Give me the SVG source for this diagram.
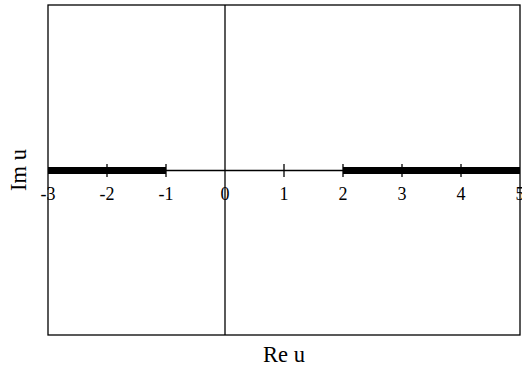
<svg xmlns="http://www.w3.org/2000/svg" width="522" height="367" viewBox="0 0 522 367">
<style>
.ln{stroke:#000;stroke-width:1.3;fill:none}
.thick{stroke:#000;stroke-width:7;fill:none}
.t{font-family:"Liberation Serif",serif;font-size:18px;fill:#000;text-anchor:middle}
.lab{font-family:"Liberation Serif",serif;font-size:22.5px;fill:#000;text-anchor:middle}
</style>
<rect width="522" height="367" fill="#fff"/>
<g id="frame"><rect x="48" y="5" width="472" height="330" class="ln"/></g>
<g id="connectors">
<line x1="48" y1="170.5" x2="520" y2="170.5" class="ln"/>
<line x1="225" y1="5" x2="225" y2="335" class="ln"/>
<line x1="48" y1="170.5" x2="166" y2="170.5" class="thick"/>
<line x1="343" y1="170.5" x2="520" y2="170.5" class="thick"/>
<g class="ln">
<line x1="107" y1="164" x2="107" y2="177"/>
<line x1="166" y1="164" x2="166" y2="177"/>
<line x1="284" y1="164" x2="284" y2="177"/>
<line x1="343" y1="164" x2="343" y2="177"/>
<line x1="402" y1="164" x2="402" y2="177"/>
<line x1="461" y1="164" x2="461" y2="177"/>
</g>
</g>
<g id="ticklabels">
<text class="t" x="48" y="200">-3</text>
<text class="t" x="107" y="200">-2</text>
<text class="t" x="166" y="200">-1</text>
<text class="t" x="225" y="200">0</text>
<text class="t" x="284" y="200">1</text>
<text class="t" x="343" y="200">2</text>
<text class="t" x="402" y="200">3</text>
<text class="t" x="461" y="200">4</text>
<text class="t" x="520" y="200">5</text>
</g>
<g id="xlabel"><text class="lab" x="284" y="362">Re u</text></g>
<g id="ylabel"><text class="lab" transform="translate(26,170) rotate(-90)">Im u</text></g>
</svg>
